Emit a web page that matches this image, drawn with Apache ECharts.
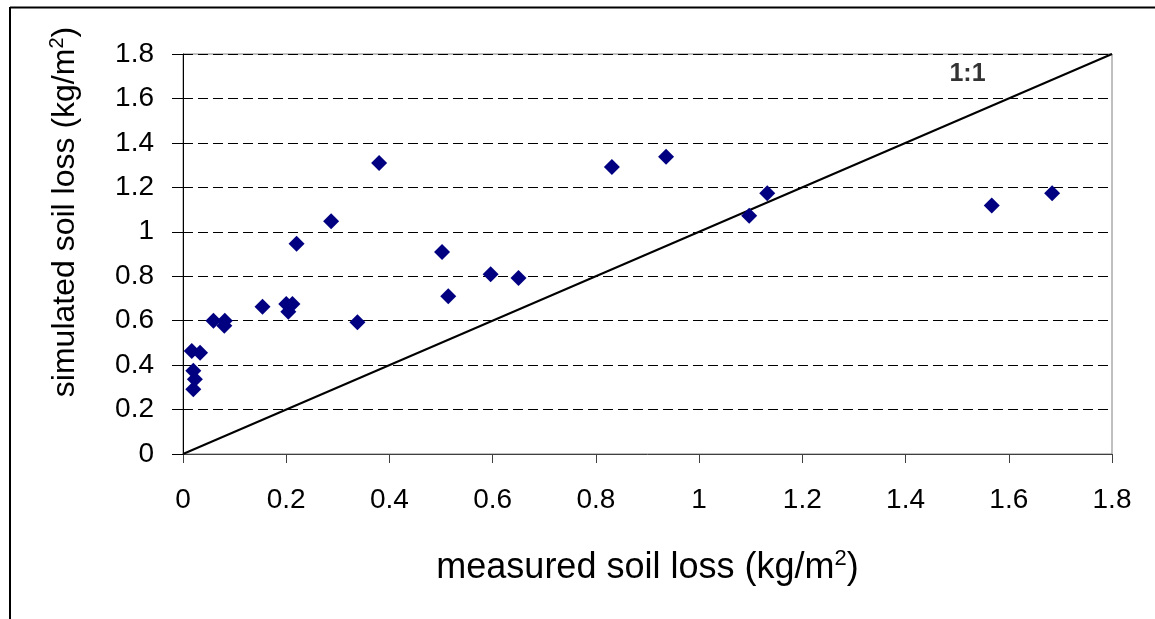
<!DOCTYPE html>
<html>
<head>
<meta charset="utf-8">
<script src="https://cdn.jsdelivr.net/npm/echarts@6/dist/echarts.min.js"></script>
<style>
html,body{margin:0;padding:0;background:#fff;}
#chart{width:1155px;height:619px;}
</style>
</head>
<body>
<div id="chart"></div>
<script>
// measured soil loss (kg/m2)
const measured = [0.017, 0.033, 0.020, 0.023, 0.020, 0.059, 0.081, 0.080, 0.154, 0.200, 0.212, 0.204, 0.338,
                  0.380, 0.287, 0.220, 0.502, 0.514, 0.596, 0.650, 0.831, 0.936, 1.097, 1.132, 1.567, 1.684];
// simulated soil loss (kg/m2)
const simulated = [0.464, 0.456, 0.375, 0.336, 0.291, 0.600, 0.600, 0.577, 0.663, 0.675, 0.675, 0.640, 0.593,
                   1.310, 1.047, 0.946, 0.909, 0.710, 0.809, 0.792, 1.292, 1.338, 1.072, 1.173, 1.118, 1.173];
const oneToOne = [[0, 0], [1.8, 1.8]];
const oneToOneLabel = '1:1';
const oneToOneLabelPos = [1.52, 1.71];
const axisMin = 0, axisMax = 1.8, axisStep = 0.2;
const xTitle = 'measured soil loss (kg/m{sup|2})';
const yTitle = 'simulated soil loss (kg/m{sup|2})';

const points = measured.map((m, i) => [m, simulated[i]]);
const font = 'Liberation Sans, Arial, sans-serif';

const chart = echarts.init(document.getElementById('chart'), null, {renderer: 'canvas'});
chart.setOption({
  animation: false,
  backgroundColor: '#fff',
  graphic: [
    {type: 'line', shape: {x1: 10, y1: 7.5, x2: 1155, y2: 7.5}, style: {stroke: '#000', lineWidth: 2}},
    {type: 'line', shape: {x1: 10, y1: 7, x2: 10, y2: 619}, style: {stroke: '#000', lineWidth: 2}}
  ],
  grid: {left: 183, right: 43, top: 54, bottom: 165, show: true, borderColor: '#808080', borderWidth: 1, backgroundColor: 'transparent'},
  xAxis: {
    type: 'value', min: axisMin, max: axisMax, interval: axisStep,
    name: xTitle, nameLocation: 'middle', nameGap: 94,
    nameTextStyle: {fontFamily: font, fontSize: 36, color: '#000',
      rich: {sup: {fontFamily: font, fontSize: 22, verticalAlign: 'top', padding: [0, 0, 18, 0], color: '#000'}}},
    axisLine: {lineStyle: {color: '#404040', width: 1}},
    axisTick: {show: true, inside: false, length: 9, lineStyle: {color: '#404040'}},
    axisLabel: {fontFamily: font, fontSize: 28, color: '#000', margin: 32,
      formatter: v => String(Math.round(v * 10) / 10)},
    splitLine: {show: false}
  },
  yAxis: {
    type: 'value', min: axisMin, max: axisMax, interval: axisStep,
    name: yTitle, nameLocation: 'middle', nameGap: 100,
    nameTextStyle: {fontFamily: font, fontSize: 32, color: '#000', padding: [0, 0, 0, 84],
      rich: {sup: {fontFamily: font, fontSize: 20, verticalAlign: 'top', padding: [0, 0, 16, 0], color: '#000'}}},
    axisLine: {show: true, lineStyle: {color: '#000', width: 1}},
    axisTick: {show: true, inside: false, length: 11, lineStyle: {color: '#000'}},
    axisLabel: {fontFamily: font, fontSize: 28, color: '#000', margin: 29,
      formatter: v => String(Math.round(v * 10) / 10)},
    splitLine: {show: true, lineStyle: {color: '#000', width: 1, type: [10, 5]}}
  },
  series: [
    {
      type: 'line', data: oneToOne, symbol: 'none', silent: true,
      lineStyle: {color: '#000', width: 2}, z: 2
    },
    {
      type: 'scatter', data: points, symbol: 'diamond', symbolSize: 16,
      itemStyle: {color: '#000080', opacity: 1}, z: 3
    },
    {
      type: 'scatter', data: [oneToOneLabelPos], symbolSize: 0, silent: true,
      label: {show: true, position: 'inside', formatter: oneToOneLabel,
        fontFamily: font, fontWeight: 'bold', fontSize: 25, color: '#000'}
    }
  ]
});
</script>
</body>
</html>
